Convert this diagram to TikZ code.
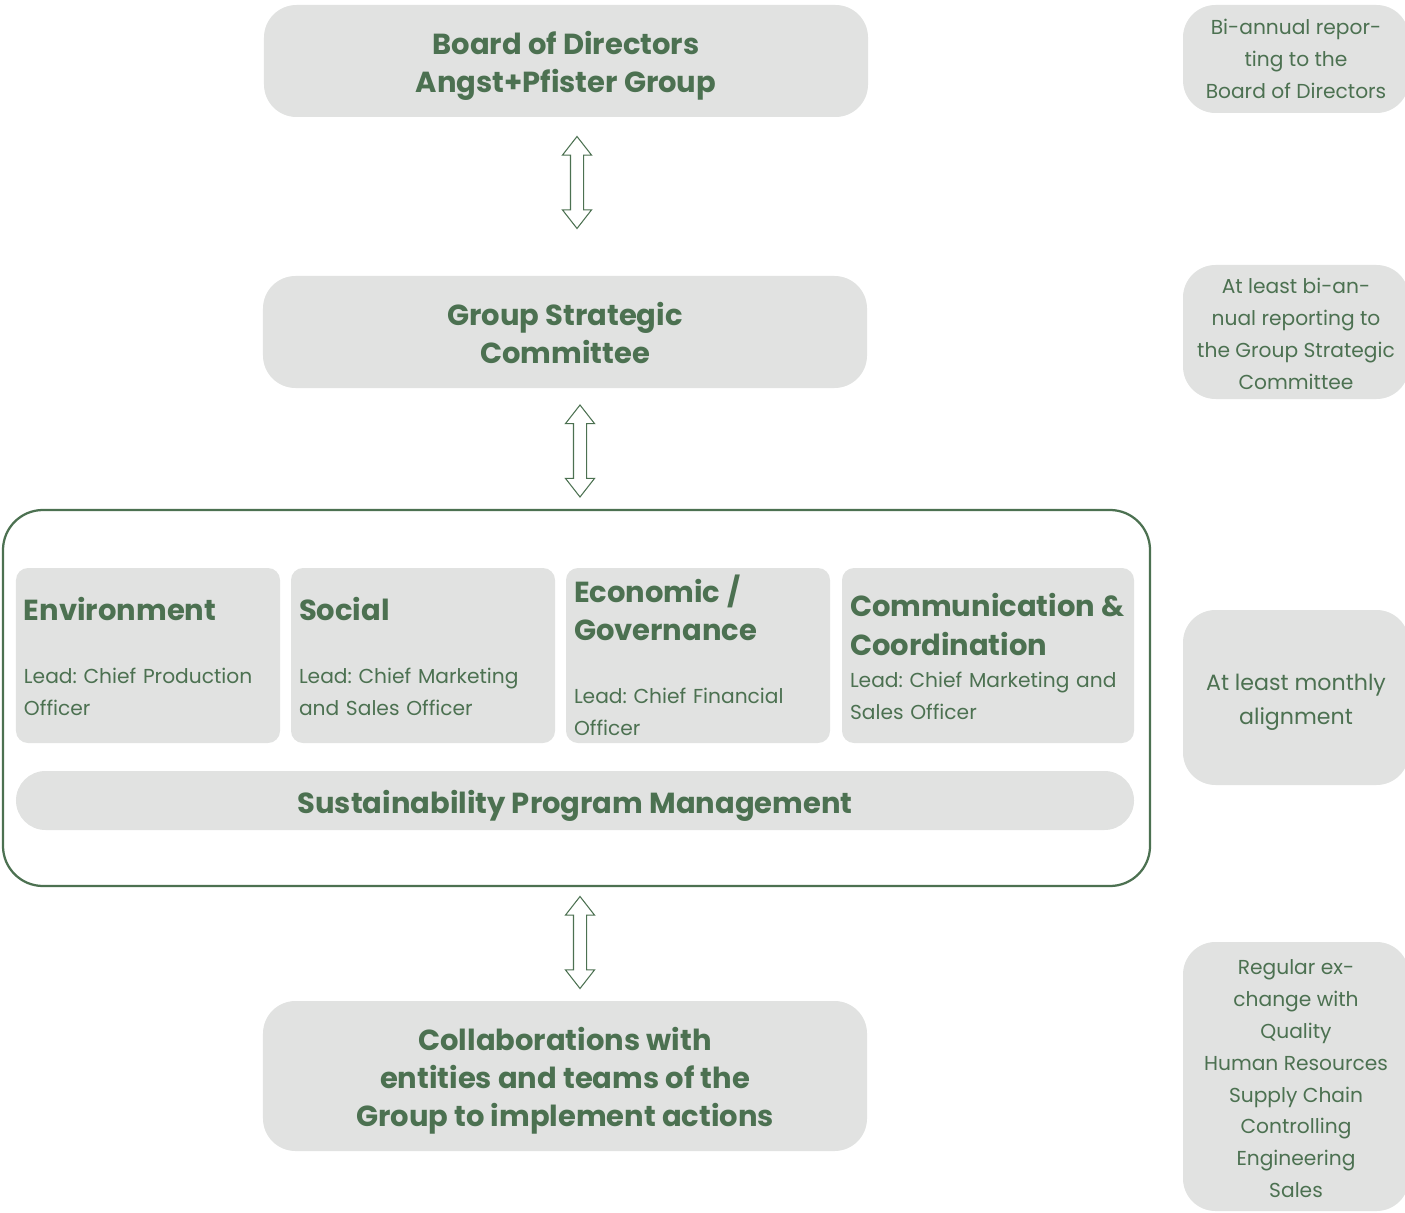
\documentclass[tikz,border=0pt]{standalone}
\usepackage{fontspec}
\setmainfont{Poppins}
\frenchspacing
\usetikzlibrary{shapes.arrows}
\definecolor{apgreen}{RGB}{76,113,81}
\definecolor{apgray}{RGB}{225,226,225}
\newcommand\headfont{\fontsize{16.5pt}{21.9pt}\selectfont\bfseries}
\newcommand\bodyfont{\fontsize{11.5pt}{18.2pt}\selectfont}
\newcommand\bigbodyfont{\fontsize{12.6pt}{19.35pt}\selectfont}
\newcommand\htop{\rule{0pt}{7mm}}
\newcommand\hbot{\rule[-2mm]{0pt}{2mm}}
\newcommand\btop{\rule{0pt}{5.4mm}}
\newcommand\bbot{\rule[-1.6mm]{0pt}{1.6mm}}
\newcommand\ttop{\rule{0pt}{5.1mm}}
\tikzset{
  bigbox/.style={fill=apgray, rounded corners=6.5mm, align=center, inner sep=0pt,
    minimum width=120.8mm, font=\headfont},
  areabox/.style={fill=apgray, rounded corners=2.4mm, align=left, inner xsep=1.6mm,
    inner ysep=0pt, minimum height=35mm, text width=49.6mm},
  sidebox/.style={fill=apgray, rounded corners=6.5mm, align=center, inner sep=0pt,
    minimum width=45.2mm},
  dblarrow/.style={double arrow, draw=apgreen, fill=white, line width=0.6pt, rotate=90,
    minimum height=18.4mm, minimum width=5.6mm, inner xsep=0pt, inner ysep=1.2mm,
    double arrow head extend=1.6mm, double arrow tip angle=76},
}
\begin{document}
\begin{tikzpicture}[x=0.2mm, y=-0.2mm, font=\bodyfont, text=apgreen]
\clip (0,0) rectangle (1405,1213);

\node[bigbox, minimum height=22.4mm] (B) at (566,61) {\htop Board of Directors\\Angst+Pfister Group\hbot};
\node[bigbox, minimum height=22.4mm] (G) at (565,332) {\htop Group Strategic\\Committee\hbot};
\node[draw=apgreen, line width=0.45mm, rounded corners=8mm, minimum width=229.4mm,
  minimum height=75.2mm, inner sep=0pt] (F) at (576.5,698) {};
\node[bigbox, minimum height=30mm] (C) at (565,1076) {\htop Collaborations with\\entities and teams of the\\Group to implement actions\hbot};

\node[areabox] (env) at (148,655.5) {{\headfont\ttop Environment\par}\vspace{6.2mm}Lead: Chief Production\\Officer};
\node[areabox] (soc) at (423,655.5) {{\headfont\ttop Social\par}\vspace{6.2mm}Lead: Chief Marketing\\and Sales Officer};
\node[areabox] (eco) at (698,655.5) {{\headfont\ttop Economic /\\Governance\par}\vspace{6.2mm}Lead: Chief Financial\\Officer};
\node[areabox, text width=55.2mm] (com) at (988,655.5) {{\headfont\ttop Communication \&\\Coordination\par}\mbox{Lead: Chief Marketing and}\\Sales Officer};
\node[fill=apgray, rounded corners=5.9mm, minimum width=223.6mm, minimum height=11.8mm,
  inner sep=0pt, font=\headfont] (spm) at (575,800.5) {\htop Sustainability Program Management\hbot};

\foreach \n/\x/\y in {a1/577/182.5, a2/580/451, a3/580/942.5}
  \node[dblarrow] (\n) at (\x,\y) {};

\node[sidebox, minimum height=21.6mm] (r1) at (1296,59) {Bi-annual repor-\\ting to the\\Board of Directors};
\node[sidebox, minimum height=26.8mm] (r2) at (1296,332) {\btop At least bi-an-\\nual reporting to\\the Group Strategic\\Committee\bbot};
\node[sidebox, minimum height=35mm, font=\bigbodyfont] (r3) at (1296,697.5) {\btop At least monthly\\alignment\bbot};
\node[sidebox, minimum height=53.8mm] (r4) at (1296,1076.5) {\btop Regular ex-\\change with\\Quality\\Human Resources\\Supply Chain\\Controlling\\Engineering\\Sales\bbot};
\end{tikzpicture}
\end{document}
